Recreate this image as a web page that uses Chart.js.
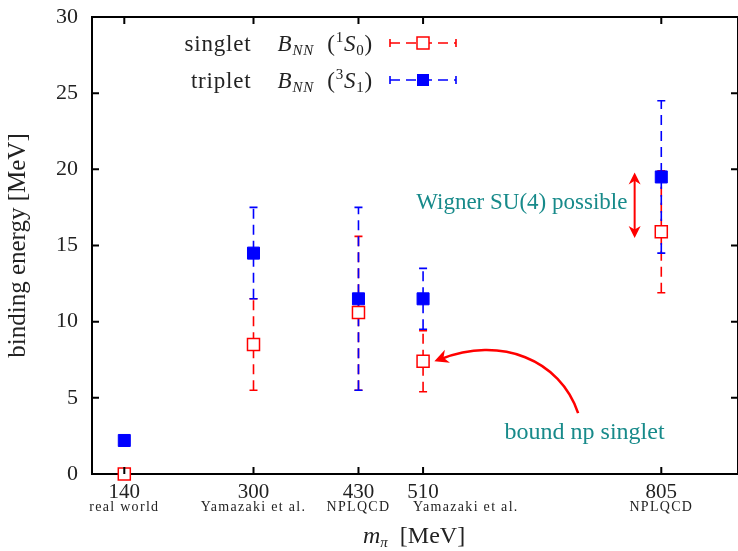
<!DOCTYPE html>
<html>
<head>
<meta charset="utf-8">
<script src="https://cdn.jsdelivr.net/npm/chart.js@4.4.1/dist/chart.umd.min.js"></script>
<style>
  html, body { margin: 0; padding: 0; background: #fff; }
</style>
</head>
<body>
<canvas id="bindingChart" width="738" height="551"></canvas>
<script>
// pion masses (MeV) and the source of each point
const pionMass = [140, 300, 430, 510, 805];
const massNotes = ['real world', 'Yamazaki et al.', 'NPLQCD', 'Yamazaki et al.', 'NPLQCD'];

// singlet 1S0 binding energy, with lower / upper error ends
const singletB  = [0, 8.5, 10.6, 7.4, 15.9];
const singletLo = [0, 5.5, 5.5, 5.4, 11.9];
const singletHi = [0, 11.5, 15.6, 9.4, 19.9];

// triplet 3S1 binding energy
const tripletB  = [2.2, 14.5, 11.5, 11.5, 19.5];
const tripletLo = [2.2, 11.5, 5.5, 9.5, 14.5];
const tripletHi = [2.2, 17.5, 17.5, 13.5, 24.5];

const yTicks = [0, 5, 10, 15, 20, 25, 30];

// annotations in data units
const wignerArrow = { x: 772, y1: 15.5, y2: 19.8 };
const wignerText = { x: 763, y: 17.8, text: 'Wigner SU(4) possible' };
const npCurve = [[702, 4.0], [680, 7.5], [606, 9.1], [524, 7.4]];
const npText = { x: 710, y: 2.7, text: 'bound np singlet' };

const SERIF = '"Liberation Serif", "DejaVu Serif", serif';
const TEAL = '#178a8a';
const RED = '#ff0000';
const BLUE = '#0000ff';

function arrowHead(ctx, x, y, ang, size) {
  // filled arrow head, tip at (x,y) pointing along ang
  ctx.save();
  ctx.translate(x, y);
  ctx.rotate(ang);
  ctx.beginPath();
  ctx.moveTo(0, 0);
  ctx.lineTo(-size, -size * 0.5);
  ctx.lineTo(-size * 0.7, 0);
  ctx.lineTo(-size, size * 0.5);
  ctx.closePath();
  ctx.fill();
  ctx.restore();
}

function errorBar(ctx, x, y1, y2, color) {
  ctx.strokeStyle = color;
  ctx.lineWidth = 1.6;
  ctx.setLineDash([10, 6]);
  ctx.beginPath();
  ctx.moveTo(x, y1);
  ctx.lineTo(x, y2);
  ctx.stroke();
  ctx.setLineDash([]);
  ctx.beginPath();
  ctx.moveTo(x - 4, y1); ctx.lineTo(x + 4, y1);
  ctx.moveTo(x - 4, y2); ctx.lineTo(x + 4, y2);
  ctx.stroke();
}

// draws a row of text pieces [text, font, dy]
function drawPieces(ctx, pieces, xStart, y) {
  let x = xStart;
  pieces.forEach(p => {
    ctx.font = p[1];
    ctx.fillText(p[0], x, y + (p[2] || 0));
    x += ctx.measureText(p[0]).width;
  });
  return x;
}
function piecesWidth(ctx, pieces) {
  let w = 0;
  pieces.forEach(p => { ctx.font = p[1]; w += ctx.measureText(p[0]).width; });
  return w;
}

const extrasPlugin = {
  id: 'extras',
  beforeDatasetsDraw(chart) {
    const ctx = chart.ctx;
    const xs = chart.scales.x, ys = chart.scales.y;
    ctx.save();
    for (let i = 0; i < pionMass.length; i++) {
      const x = xs.getPixelForValue(pionMass[i]);
      if (singletHi[i] !== singletLo[i])
        errorBar(ctx, x, ys.getPixelForValue(singletLo[i]), ys.getPixelForValue(singletHi[i]), RED);
      if (tripletHi[i] !== tripletLo[i])
        errorBar(ctx, x, ys.getPixelForValue(tripletLo[i]), ys.getPixelForValue(tripletHi[i]), BLUE);
    }
    ctx.restore();
  },
  afterDraw(chart) {
    const ctx = chart.ctx;
    const a = chart.chartArea;
    const xs = chart.scales.x, ys = chart.scales.y;
    ctx.save();

    // frame and inward ticks
    ctx.strokeStyle = '#000';
    ctx.lineWidth = 2;
    ctx.beginPath();
    ctx.moveTo(a.left, a.top); ctx.lineTo(a.right, a.top);
    ctx.moveTo(a.right, a.top); ctx.lineTo(a.right, a.bottom);
    yTicks.forEach(v => {
      const y = ys.getPixelForValue(v);
      ctx.moveTo(a.left, y); ctx.lineTo(a.left + 7, y);
      ctx.moveTo(a.right, y); ctx.lineTo(a.right - 7, y);
    });
    pionMass.forEach(v => {
      const x = xs.getPixelForValue(v);
      ctx.moveTo(x, a.bottom); ctx.lineTo(x, a.bottom - 7);
      ctx.moveTo(x, a.top); ctx.lineTo(x, a.top + 7);
    });
    ctx.stroke();

    // small notes under the mass ticks
    ctx.fillStyle = '#222';
    ctx.font = '14px ' + SERIF;
    ctx.letterSpacing = '1.3px';
    ctx.textBaseline = 'middle';
    massNotes.forEach((n, i) => {
      const x = xs.getPixelForValue(pionMass[i]);
      if (i === 3) { ctx.textAlign = 'left'; ctx.fillText(n, x - 10, 507); }
      else { ctx.textAlign = 'center'; ctx.fillText(n, x, 507); }
    });
    ctx.letterSpacing = '0px';

    // x axis title: m_pi [MeV]
    ctx.textAlign = 'left';
    ctx.textBaseline = 'alphabetic';
    const xt = [['m', 'italic 24px ' + SERIF], ['π', 'italic 15px ' + SERIF, 4], ['  [MeV]', '24px ' + SERIF]];
    drawPieces(ctx, xt, 363, 543);

    // legend
    const big = '23px ' + SERIF, it = 'italic 23px ' + SERIF;
    const sub = 'italic 15px ' + SERIF, sm = '15px ' + SERIF;
    const rows = [
      { y: 43, color: RED, fill: false,
        txt: [['singlet    ', big], ['B', it], ['NN', sub, 4], ['  (', big], ['1', sm, -9], ['S', it], ['0', sm, 4], [')', big]] },
      { y: 80, color: BLUE, fill: true,
        txt: [['triplet    ', big], ['B', it], ['NN', sub, 4], ['  (', big], ['3', sm, -9], ['S', it], ['1', sm, 4], [')', big]] }
    ];
    ctx.letterSpacing = '0.8px';
    rows.forEach(r => {
      ctx.fillStyle = '#222';
      drawPieces(ctx, r.txt, 373 - piecesWidth(ctx, r.txt), r.y + 8);
    });
    ctx.letterSpacing = '0px';
    rows.forEach(r => {
      ctx.strokeStyle = r.color;
      ctx.lineWidth = 1.6;
      ctx.setLineDash([10, 6]);
      ctx.beginPath(); ctx.moveTo(390, r.y); ctx.lineTo(456, r.y); ctx.stroke();
      ctx.setLineDash([]);
      ctx.beginPath();
      ctx.moveTo(390, r.y - 4); ctx.lineTo(390, r.y + 4);
      ctx.moveTo(456, r.y - 4); ctx.lineTo(456, r.y + 4);
      ctx.stroke();
      if (r.fill) { ctx.fillStyle = r.color; ctx.fillRect(417, r.y - 6, 12, 12); }
      else { ctx.fillStyle = '#fff'; ctx.fillRect(417, r.y - 6, 12, 12); ctx.lineWidth = 1.5; ctx.strokeRect(417, r.y - 6, 12, 12); }
    });

    // Wigner SU(4) annotation
    ctx.fillStyle = TEAL;
    ctx.font = '23px ' + SERIF;
    ctx.textAlign = 'right';
    ctx.textBaseline = 'middle';
    ctx.fillText(wignerText.text, xs.getPixelForValue(wignerText.x), ys.getPixelForValue(wignerText.y));
    const wx = xs.getPixelForValue(wignerArrow.x);
    const wy1 = ys.getPixelForValue(wignerArrow.y1), wy2 = ys.getPixelForValue(wignerArrow.y2);
    ctx.strokeStyle = RED; ctx.fillStyle = RED; ctx.lineWidth = 2;
    ctx.beginPath(); ctx.moveTo(wx, wy1 - 6); ctx.lineTo(wx, wy2 + 6); ctx.stroke();
    arrowHead(ctx, wx, wy1, Math.PI / 2, 12);
    arrowHead(ctx, wx, wy2, -Math.PI / 2, 12);

    // bound np singlet annotation with curved arrow
    const p = npCurve.map(q => [xs.getPixelForValue(q[0]), ys.getPixelForValue(q[1])]);
    ctx.lineWidth = 2.5;
    ctx.beginPath();
    ctx.moveTo(p[0][0], p[0][1]);
    ctx.bezierCurveTo(p[1][0], p[1][1], p[2][0], p[2][1], p[3][0] + 6, p[3][1] - 2);
    ctx.stroke();
    arrowHead(ctx, p[3][0], p[3][1], Math.atan2(p[3][1] - p[2][1], p[3][0] - p[2][0]), 14);
    ctx.fillStyle = TEAL;
    ctx.font = '24px ' + SERIF;
    ctx.textAlign = 'center';
    ctx.fillText(npText.text, xs.getPixelForValue(npText.x), ys.getPixelForValue(npText.y));

    ctx.restore();
  }
};

const ctx = document.getElementById('bindingChart').getContext('2d');
const data = {
  datasets: [
    {
      label: 'singlet',
      data: pionMass.map((m, i) => ({ x: m, y: singletB[i] })),
      pointStyle: 'rect',
      pointRadius: 8.5,
      pointHoverRadius: 8.5,
      borderColor: RED,
      backgroundColor: '#fff',
      pointBorderWidth: 1.5,
      showLine: false,
      clip: false
    },
    {
      label: 'triplet',
      data: pionMass.map((m, i) => ({ x: m, y: tripletB[i] })),
      pointStyle: 'rect',
      pointRadius: 8.5,
      pointHoverRadius: 8.5,
      borderColor: BLUE,
      backgroundColor: BLUE,
      pointBorderWidth: 1,
      showLine: false,
      clip: false
    }
  ]
};

const config = {
  type: 'scatter',
  data: data,
  options: {
    responsive: false,
    animation: false,
    layout: { autoPadding: false, padding: { top: 17, right: 0, left: 0, bottom: 0 } },
    plugins: { legend: { display: false }, tooltip: { enabled: false } },
    scales: {
      x: {
        type: 'linear',
        min: 100,
        max: 900,
        afterFit: s => { s.height = 77; s.paddingLeft = 0; s.paddingRight = 0; },
        afterBuildTicks: s => { s.ticks = pionMass.map(v => ({ value: v })); },
        grid: { display: false, drawTicks: false },
        border: { display: true, color: '#000', width: 2 },
        ticks: { color: '#222', padding: 6, font: { family: SERIF, size: 21 }, maxRotation: 0, autoSkip: false,
                 callback: v => String(v) }
      },
      y: {
        min: 0,
        max: 30,
        afterFit: s => { s.width = 92; s.paddingTop = 0; s.paddingBottom = 0; },
        afterBuildTicks: s => { s.ticks = yTicks.map(v => ({ value: v })); },
        grid: { display: false, drawTicks: false },
        border: { display: true, color: '#000', width: 2 },
        ticks: { color: '#222', padding: 14, font: { family: SERIF, size: 22 } },
        title: { display: true, text: 'binding energy [MeV]', color: '#222',
                 font: { family: SERIF, size: 25 }, padding: { top: 3, bottom: 0 } }
      }
    }
  },
  plugins: [extrasPlugin]
};

const bindingChart = new Chart(ctx, config);
</script>
</body>
</html>
